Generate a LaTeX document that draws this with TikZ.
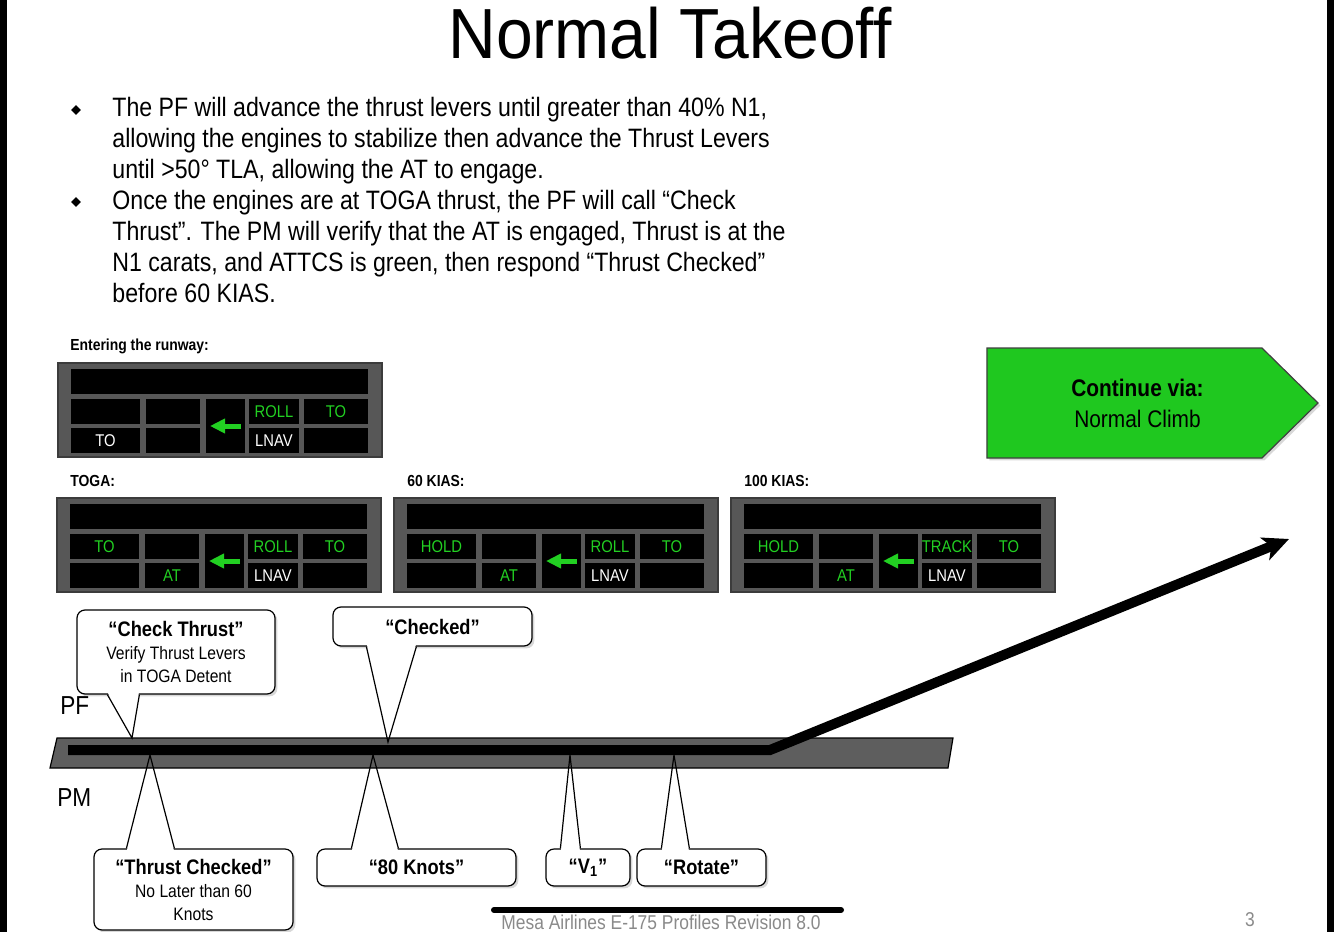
\documentclass[tikz,border=0pt]{standalone}
\usepackage{fontspec}
\setmainfont[FakeStretch=0.87]{Liberation Sans}
\newfontfamily\titlefont[FakeStretch=0.93]{Liberation Sans}
\usetikzlibrary{arrows.meta,calc,shadows,shapes.geometric,shapes.symbols}
\definecolor{fmaGreen}{HTML}{22D022}
\definecolor{climbFill}{HTML}{1FC81F}
\definecolor{frameFill}{HTML}{575757}
\definecolor{frameStroke}{HTML}{3C3C3C}
\definecolor{runwayFill}{HTML}{5E5E5E}
\definecolor{footGray}{HTML}{8A8A8A}

% one flight mode annunciator panel: name, top-left corner, then the lit texts
\newcommand{\fmapanel}[7]{%
  \begin{scope}[shift={#2}]
    \node[fmaframe] (#1) at (162,47) {};
    \node[fmacell,minimum width=148.5pt] (#1-bar) at (161.5,18.5) {};
    \node[fmacell,minimum width=34.5pt,text=fmaGreen] (#1-c11) at (47.5,48.5) {#3};
    \node[fmacell,minimum width=34.5pt] (#1-c12) at (47.5,77.5) {#4};
    \node[fmacell,minimum width=27pt] (#1-c21) at (115,48.5) {};
    \node[fmacell,minimum width=27pt,text=fmaGreen] (#1-c22) at (115,77.5) {#5};
    \node[fmacell,minimum width=19.5pt,minimum height=27pt] (#1-c3) at (167.5,63) {};
    \node[fmacell,minimum width=25pt,text=fmaGreen] (#1-c41) at (216,48.5) {#6};
    \node[fmacell,minimum width=25pt] (#1-c42) at (216,77.5) {LNAV};
    \node[fmacell,minimum width=32pt,text=fmaGreen] (#1-c51) at (278,48.5) {#7};
    \node[fmacell,minimum width=32pt] (#1-c52) at (278,77.5) {};
    \draw[fmaarrow] ([xshift=7.75pt]#1-c3.center) -- ([xshift=-7.75pt]#1-c3.center);
  \end{scope}}

% pointer of a call-out: corner, left and right offset, cover shift, tip
\newcommand{\tailfill}[5]{%
  \fill[white] ($(#1)+(#2+0.6,#4)$) -- (#5) -- ($(#1)+(#3-0.6,#4)$) -- cycle;}
\newcommand{\tailline}[4]{%
  \draw[tail] ($(#1)+(#2,0)$) -- (#4) -- ($(#1)+(#3,0)$);}

\begin{document}
\begin{tikzpicture}[
  x=0.5pt,y=-0.5pt,
  bodytext/.style={anchor=north west,inner sep=0pt,align=left,font=\fontsize{13.3}{15.5}\selectfont},
  bullet/.style={diamond,fill=black,inner sep=0pt,minimum size=5pt},
  caption/.style={anchor=west,inner sep=0pt,font=\fontsize{8}{9}\selectfont\bfseries},
  fmaframe/.style={rectangle,fill=frameFill,draw=frameStroke,line width=.6pt,minimum width=162pt,minimum height=47pt,inner sep=0pt},
  fmacell/.style={rectangle,fill=black,text=white,minimum height=12.5pt,inner sep=0pt,font=\fontsize{8.5}{9}\selectfont},
  fmaarrow/.style={draw=fmaGreen,line width=2.5pt,-{Triangle[length=7.5pt,width=7pt]}},
  bubble/.style={rectangle,rounded corners=4pt,draw=black,line width=.6pt,fill=white,inner sep=0pt,align=center,
    font=\fontsize{9}{11.5}\selectfont,drop shadow={opacity=.3,shadow xshift=1.2pt,shadow yshift=-1.2pt}},
  tail/.style={draw=black,line width=.6pt,line join=miter},
  crew/.style={anchor=west,inner sep=0pt,font=\fontsize{13}{14}\selectfont},
  climbbox/.style={signal,signal to=east,signal pointer angle=89,fill=climbFill,draw=black!75,line width=.6pt,
    minimum width=165.5pt,minimum height=55pt,inner sep=0pt,align=center,font=\fontsize{12}{15.5}\selectfont,
    drop shadow={opacity=.3,shadow xshift=1.2pt,shadow yshift=-1.2pt}},
  climb/.style={draw=black,line width=5pt,-{Stealth[length=13pt,width=12pt,inset=3.5pt]}}
]
\useasboundingbox (0,0) rectangle (1334,932);
\fill[white] (0,0) rectangle (1334,932);

% title and briefing text
\node[anchor=base,inner sep=0pt,font=\titlefont\fontsize{35.5}{40}\selectfont] (title) at (670,58) {Normal Takeoff};
\node[bullet] (dot1) at (76,110) {};
\node[bodytext] (para1) at (112,97) {The PF will advance the thrust levers until greater than 40\% N1,\\
  allowing the engines to stabilize then advance the Thrust Levers\\
  until >50° TLA, allowing the AT to engage.};
\node[bullet] (dot2) at (76,202) {};
\node[bodytext] (para2) at (112,190) {Once the engines are at TOGA thrust, the PF will call “Check\\
  Thrust”. The PM will verify that the AT is engaged, Thrust is at the\\
  N1 carats, and ATTCS is green, then respond “Thrust Checked”\\
  before 60 KIAS.};

% mode annunciations
\node[caption] (capEnter) at (70,346) {Entering the runway:};
\fmapanel{enter}{(58,363)}{}{TO}{}{ROLL}{TO}
\node[caption] (capToga) at (70,481) {TOGA:};
\fmapanel{toga}{(57,498)}{TO}{}{AT}{ROLL}{TO}
\node[caption] (capSixty) at (407,481) {60 KIAS:};
\fmapanel{sixty}{(394,498)}{HOLD}{}{AT}{ROLL}{TO}
\node[caption] (capHundred) at (744,481) {100 KIAS:};
\fmapanel{hundred}{(731,498)}{HOLD}{}{AT}{TRACK}{TO}

\node[climbbox] (nextClimb) at (1124.5,403) {\hspace*{13pt}\textbf{Continue via:}\\\hspace*{13pt}Normal Climb};

\node[crew] (pf) at (60,706) {PF};
\node[crew] (pm) at (57,798) {PM};

% call-outs of the pilot flying
\coordinate (tipCheck) at (132,738);
\coordinate (tipChecked) at (388,742);
\node[bubble,minimum width=99pt,minimum height=42pt] (checkThrust) at (176,652)
  {{\fontsize{10.5}{12}\selectfont\bfseries “Check Thrust”}\\Verify Thrust Levers\\in TOGA Detent};
\tailfill{checkThrust.south west}{31}{63}{-1.5}{tipCheck}
\node[bubble,minimum width=99.5pt,minimum height=19.5pt,font=\fontsize{10.5}{12}\selectfont\bfseries] (checked) at (432.5,626.5) {“Checked”};
\tailfill{checked.south west}{34}{84}{-1.5}{tipChecked}

% call-outs of the pilot monitoring
\coordinate (tipThrust) at (150,755);
\coordinate (tipEighty) at (373,755);
\coordinate (tipVone) at (570,755);
\coordinate (tipRotate) at (674,755);
\node[bubble,minimum width=99.5pt,minimum height=40.5pt] (thrustChecked) at (193.5,889.5)
  {{\fontsize{10.5}{12}\selectfont\bfseries “Thrust Checked”}\\No Later than 60\\Knots};
\tailfill{thrustChecked.north west}{33}{81}{1.5}{tipThrust}
\node[bubble,minimum width=99.5pt,minimum height=18.5pt,font=\fontsize{10.5}{12}\selectfont\bfseries] (eighty) at (416.5,867.5) {“80 Knots”};
\tailfill{eighty.north west}{35}{82}{1.5}{tipEighty}
\node[bubble,minimum width=42pt,minimum height=18.5pt,font=\fontsize{10.5}{12}\selectfont\bfseries] (vone) at (588,867.5) {“V\textsubscript{1}”};
\tailfill{vone.north west}{15}{35}{1.5}{tipVone}
\node[bubble,minimum width=64.5pt,minimum height=18.5pt,font=\fontsize{10.5}{12}\selectfont\bfseries] (rotate) at (701.5,867.5) {“Rotate”};
\tailfill{rotate.north west}{25}{53}{1.5}{tipRotate}

% runway and flight path
\fill[runwayFill,draw=black,line width=.6pt] (57,738) -- (953,738) -- (948,768) -- (50,768) -- cycle;
\tailline{checkThrust.south west}{31}{63}{tipCheck}
\tailline{checked.south west}{34}{84}{tipChecked}
\tailline{thrustChecked.north west}{33}{81}{tipThrust}
\tailline{eighty.north west}{35}{82}{tipEighty}
\tailline{vone.north west}{15}{35}{tipVone}
\tailline{rotate.north west}{25}{53}{tipRotate}
\coordinate (rollStart) at (68,750);
\coordinate (rotatePt) at (770,750);
\coordinate (climbEnd) at (1289,539);
\draw[climb] (rollStart) -- (rotatePt) -- (climbEnd);

% slide footer
\node[anchor=base,inner sep=0pt,text=footGray,font=\fontsize{10}{12}\selectfont] (footer) at (661,929) {Mesa Airlines E-175 Profiles Revision 8.0};
\draw[black,line width=3pt,line cap=round] (494,910) -- (841,910);
\node[inner sep=0pt,text=footGray,font=\fontsize{10}{11}\selectfont] (pageNo) at (1250,920) {3};
\fill[black] (0,0) rectangle (7,932);
\fill[black] (1327,0) rectangle (1334,932);
\end{tikzpicture}
\end{document}
